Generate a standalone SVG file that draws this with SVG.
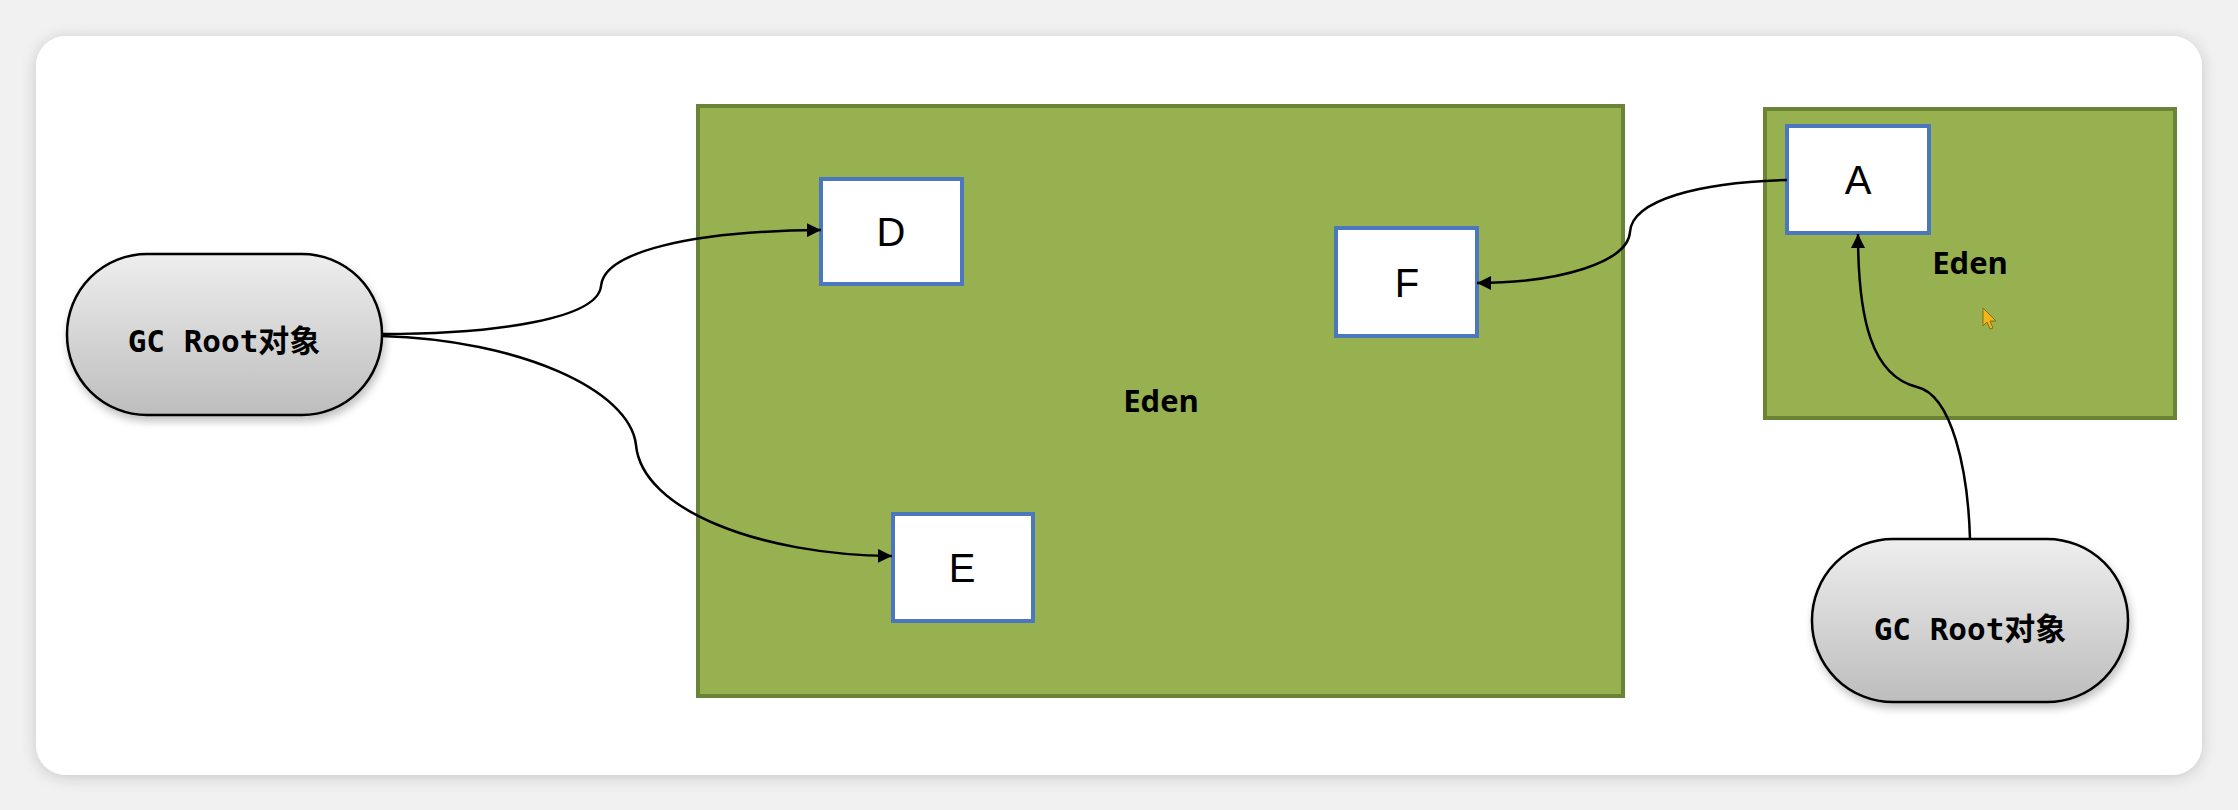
<svg xmlns="http://www.w3.org/2000/svg" width="2238" height="810" viewBox="0 0 2238 810">
  <defs>
    <linearGradient id="pillGrad" x1="0" y1="0" x2="0" y2="1">
      <stop offset="0" stop-color="#eeeeee"/>
      <stop offset="1" stop-color="#bdbdbd"/>
    </linearGradient>
    <filter id="cardShadow" x="-5%" y="-10%" width="110%" height="120%">
      <feGaussianBlur in="SourceAlpha" stdDeviation="8"/>
      <feOffset dx="0" dy="2"/>
      <feComponentTransfer><feFuncA type="linear" slope="0.18"/></feComponentTransfer>
      <feMerge><feMergeNode/><feMergeNode in="SourceGraphic"/></feMerge>
    </filter>
    <filter id="pillShadow" x="-10%" y="-10%" width="120%" height="130%">
      <feGaussianBlur in="SourceAlpha" stdDeviation="4"/>
      <feOffset dx="2" dy="5"/>
      <feComponentTransfer><feFuncA type="linear" slope="0.25"/></feComponentTransfer>
      <feMerge><feMergeNode/><feMergeNode in="SourceGraphic"/></feMerge>
    </filter>
    <marker id="arrow" viewBox="0 0 10 10" refX="10" refY="5" markerWidth="14" markerHeight="14" markerUnits="userSpaceOnUse" orient="auto">
      <path d="M0,0 L10,5 L0,10 Z" fill="#000"/>
    </marker>
    <style>
      .eden { fill: #97b151; stroke: #6a8436; stroke-width: 4; }
      .box { fill: #ffffff; stroke: #4a77bd; stroke-width: 4; }
      .pill { fill: url(#pillGrad); stroke: #000; stroke-width: 2.5; }
      .letter { font-family: "Liberation Sans", "Noto Sans", sans-serif; font-size: 40px; fill: #000; text-anchor: middle; }
      .edenlbl { font-family: "Open Sans", "Liberation Sans", sans-serif; font-weight: bold; font-size: 31px; fill: #000; text-anchor: middle; }
      .gclbl { font-family: "DejaVu Sans Mono", "Noto Sans CJK SC", monospace; font-weight: bold; font-size: 31px; fill: #000; text-anchor: middle; }
      .conn { fill: none; stroke: #000; stroke-width: 2.5; }
    </style>
  </defs>

  <rect x="0" y="0" width="2238" height="810" fill="#f1f1f1"/>
  <rect x="36" y="36" width="2166" height="739" rx="30" ry="30" fill="#ffffff" filter="url(#cardShadow)"/>

  <g id="eden-main">
    <rect class="eden" x="698" y="106" width="925" height="590"/>
    <text class="edenlbl" x="1161" y="412">Eden</text>
  </g>

  <g id="eden-small">
    <rect class="eden" x="1765" y="109" width="410" height="309"/>
    <text class="edenlbl" x="1970" y="274">Eden</text>
    <path d="M1983,308 L1983,326 L1987,322 L1990,329 L1993,328 L1990,321 L1996,321 Z" fill="#f2b619" stroke="#8a6a10" stroke-width="1"/>
  </g>

  <g id="node-D">
    <rect class="box" x="821" y="179" width="141" height="105"/>
    <text class="letter" x="891" y="246">D</text>
  </g>

  <g id="node-E">
    <rect class="box" x="893" y="514" width="140" height="107"/>
    <text class="letter" x="962" y="582">E</text>
  </g>

  <g id="node-F">
    <rect class="box" x="1336" y="228" width="141" height="108"/>
    <text class="letter" x="1407" y="297">F</text>
  </g>

  <g id="node-A">
    <rect class="box" x="1787" y="126" width="142" height="107"/>
    <text class="letter" x="1858" y="194">A</text>
  </g>

  <g id="gcroot-left">
    <rect class="pill" x="67" y="254" width="315" height="161" rx="80" ry="80" filter="url(#pillShadow)"/>
    <text class="gclbl" x="224" y="352">GC Root对象</text>
  </g>

  <g id="gcroot-right">
    <rect class="pill" x="1812" y="539" width="316" height="163" rx="81" ry="81" filter="url(#pillShadow)"/>
    <text class="gclbl" x="1970" y="640">GC Root对象</text>
  </g>

  <g id="connectors">
    <path class="conn" marker-end="url(#arrow)" d="M382,334 C500,334 598,318 601,286 C604,252 690,231 821,230"/>
    <path class="conn" marker-end="url(#arrow)" d="M382,336 C520,340 630,390 636,445 C642,510 760,555 892,556"/>
    <path class="conn" marker-end="url(#arrow)" d="M1787,180 C1700,182 1632,200 1630,232 C1628,262 1560,283 1477,283"/>
    <path class="conn" marker-end="url(#arrow)" d="M1970,539 C1968,470 1952,395 1917,387 C1872,376 1858,320 1858,234"/>
  </g>
</svg>
